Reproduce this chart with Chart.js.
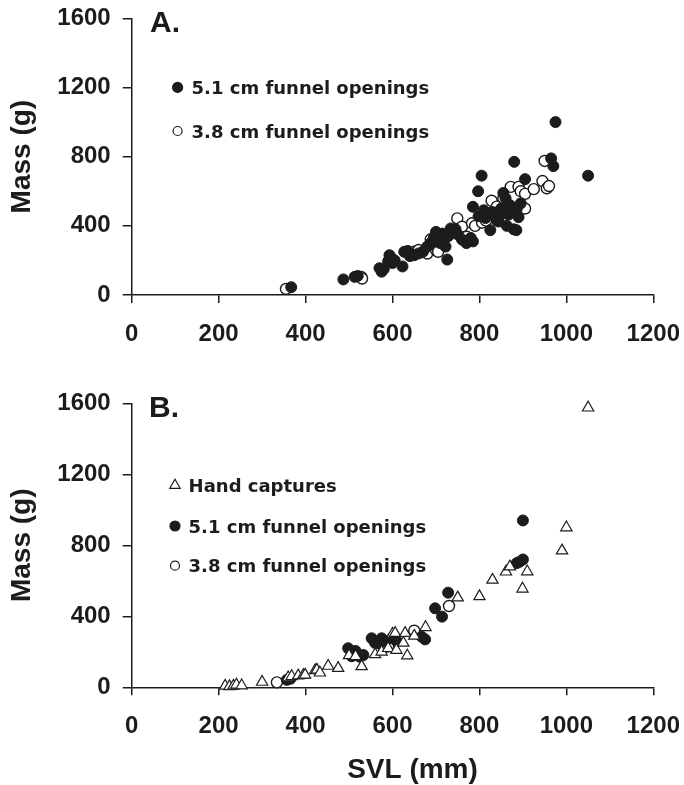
<!DOCTYPE html>
<html><head><meta charset="utf-8">
<script src="https://cdn.jsdelivr.net/npm/chart.js@4/dist/chart.umd.min.js"></script>
<style>body{margin:0;background:#fff}canvas{display:block}</style>
</head><body>
<canvas id="a" width="684" height="355" style="width:684px;height:355px"></canvas>
<canvas id="b" width="684" height="430" style="width:684px;height:430px"></canvas>
<script>
// ---- data (SVL mm, Mass g) ----
const xTicks = [0, 200, 400, 600, 800, 1000, 1200];
const yTicks = [0, 400, 800, 1200, 1600];

// Panel A, 5.1 cm funnel openings (filled)
const svlA51 = [367,487,513,520,570,575,580,590,593,597,600,605,623,627,635,640,650,660,670,680,688,695,700,705,710,715,722,726,728,734,740,745,750,760,770,780,785,785,797,798,805,810,814,820,825,830,837,840,844,850,852,855,860,863,867,870,875,879,880,885,886,890,895,905,965,970,975,1050];
const massA51 = [45,90,105,110,155,135,150,195,230,215,185,200,165,250,255,225,230,240,250,280,300,330,365,340,300,355,280,205,340,385,360,380,350,320,300,330,310,510,600,455,690,490,445,470,375,480,465,430,425,500,470,590,560,400,465,520,480,380,770,375,500,450,530,670,790,745,1000,690];
// Panel A, 3.8 cm funnel openings (open)
const svlA38 = [355,528,530,650,660,675,680,688,695,700,703,705,720,749,760,763,771,783,790,806,815,828,840,855,872,890,895,905,905,925,945,950,955,960];
const massA38 = [35,105,95,250,260,256,240,322,300,260,279,250,330,443,395,330,337,415,400,418,430,545,511,560,625,625,600,585,500,612,659,775,617,630];

// Panel B, hand captures (triangles)
const svlBHand = [215,225,234,241,253,300,360,368,383,395,399,422,426,433,452,475,500,515,529,560,575,590,600,606,609,625,629,634,650,676,750,800,830,861,870,899,910,990,1000,1050];
const massBHand = [8,5,8,14,10,30,55,62,66,68,70,95,98,82,120,108,180,175,118,185,200,220,300,305,210,250,305,178,290,338,505,512,605,651,680,555,652,770,900,1575];
// Panel B, 5.1 cm funnel openings (filled)
const svlB51 = [357,365,498,506,510,515,525,533,552,560,564,575,580,598,610,667,675,698,714,728,886,893,900,900];
const massB51 = [42,48,220,175,195,205,172,182,276,250,248,276,260,276,260,285,270,445,398,533,700,708,720,940];
// Panel B, 3.8 cm funnel openings (open)
const svlB38 = [334,580,590,650,730];
const massB38 = [28,225,230,319,458];

// ---- styling ----
const ink = '#1c1c1c';
const sansBold = (size) => ({family: "'Liberation Sans', Arial, Helvetica, sans-serif", size: size, weight: 'bold'});
const legendFont = "bold 18px 'DejaVu Sans', 'Liberation Sans', sans-serif";

function pts(xs, ys) { return xs.map((x, i) => ({x: x, y: ys[i]})); }

function filledSet(label, xs, ys) {
  return {label, data: pts(xs, ys), clip: false, pointStyle: 'circle', pointRadius: 5.5, pointBackgroundColor: ink, pointBorderColor: ink, pointBorderWidth: 1, showLine: false};
}
function openSet(label, xs, ys) {
  return {label, data: pts(xs, ys), clip: false, pointStyle: 'circle', pointRadius: 5.5, pointBackgroundColor: '#fff', pointBorderColor: ink, pointBorderWidth: 1.4, showLine: false};
}
function triSet(label, xs, ys) {
  return {label, data: pts(xs, ys), clip: false, pointStyle: 'triangle', pointRadius: 6.5, pointBackgroundColor: '#fff', pointBorderColor: ink, pointBorderWidth: 1.2, showLine: false};
}

function zeroPad(s) { s.paddingLeft = 0; s.paddingRight = 0; s.paddingTop = 0; s.paddingBottom = 0; }

function makeScales(xAxisHeight) {
  const grid = (len) => ({display: true, drawOnChartArea: false, drawTicks: true, tickLength: len, color: ink, lineWidth: 1.5});
  return {
    x: {
      type: 'linear', min: xTicks[0], max: xTicks[xTicks.length - 1],
      afterBuildTicks: (s) => { s.ticks = xTicks.map(v => ({value: v})); },
      ticks: {font: sansBold(24), color: ink, padding: 17, maxRotation: 0, autoSkip: false, callback: (v) => String(v)},
      grid: grid(8),
      border: {display: true, color: ink, width: 1.5},
      afterFit: (s) => { s.height = xAxisHeight; zeroPad(s); }
    },
    y: {
      type: 'linear', min: yTicks[0], max: yTicks[yTicks.length - 1],
      afterBuildTicks: (s) => { s.ticks = yTicks.map(v => ({value: v})); },
      ticks: {font: sansBold(24), color: ink, padding: 12, autoSkip: false, callback: (v) => String(v)},
      grid: grid(9),
      border: {display: true, color: ink, width: 1.5},
      title: {display: true, text: 'Mass (g)', font: sansBold(28), color: ink, padding: {top: 5, bottom: 0}},
      afterFit: (s) => { s.width = 131.7; zeroPad(s); }
    }
  };
}

function drawMarker(ctx, style, x, y, r) {
  ctx.save();
  ctx.lineWidth = 1.2;
  ctx.strokeStyle = ink;
  ctx.beginPath();
  if (style === 'triangle') {
    const s = Math.sin(Math.PI / 3) * r;
    ctx.moveTo(x, y - r);
    ctx.lineTo(x + s, y + r / 2);
    ctx.lineTo(x - s, y + r / 2);
    ctx.closePath();
    ctx.fillStyle = '#fff';
  } else {
    ctx.arc(x, y, r, 0, Math.PI * 2);
    ctx.fillStyle = style === 'filled' ? ink : '#fff';
  }
  ctx.fill();
  ctx.stroke();
  ctx.restore();
}

function annotations(cfg) {
  return {
    id: 'annot',
    afterDraw(chart) {
      const ctx = chart.ctx;
      ctx.save();
      ctx.fillStyle = ink;
      ctx.textBaseline = 'alphabetic';
      ctx.font = "bold 30px 'Liberation Sans', Arial, sans-serif";
      ctx.textAlign = 'left';
      ctx.fillText(cfg.letter, cfg.letterX, cfg.letterY);
      cfg.legend.forEach(item => {
        drawMarker(ctx, item.style, cfg.markX, item.y - 6.5, item.r);
        ctx.fillStyle = ink;
        ctx.font = legendFont;
        ctx.textAlign = 'left';
        ctx.fillText(item.text, cfg.textX, item.y);
      });
      if (cfg.xTitle) {
        ctx.font = "bold 28px 'Liberation Sans', Arial, sans-serif";
        ctx.textAlign = 'center';
        ctx.fillText(cfg.xTitle, cfg.xTitleX, cfg.xTitleY);
      }
      ctx.restore();
    }
  };
}

function baseOptions(topPad, xAxisHeight) {
  return {
    responsive: false, animation: false, devicePixelRatio: 1,
    layout: {padding: {left: 0, right: 30.7, top: topPad, bottom: 0}},
    plugins: {legend: {display: false}, tooltip: {enabled: false}},
    scales: makeScales(xAxisHeight)
  };
}

new Chart(document.getElementById('a'), {
  type: 'scatter',
  data: {datasets: [
    filledSet('5.1 cm funnel openings', svlA51, massA51),
    openSet('3.8 cm funnel openings', svlA38, massA38)
  ]},
  options: baseOptions(18.3, 60),
  plugins: [annotations({
    letter: 'A.', letterX: 150, letterY: 32,
    markX: 177.6, textX: 191.6,
    legend: [
      {style: 'filled', r: 5, text: '5.1 cm funnel openings', y: 93.9},
      {style: 'open', r: 4.5, text: '3.8 cm funnel openings', y: 137.5}
    ]
  })]
});

new Chart(document.getElementById('b'), {
  type: 'scatter',
  data: {datasets: [
    triSet('Hand captures', svlBHand, massBHand),
    filledSet('5.1 cm funnel openings', svlB51, massB51),
    openSet('3.8 cm funnel openings', svlB38, massB38)
  ]},
  options: baseOptions(48.3, 97.7),
  plugins: [annotations({
    letter: 'B.', letterX: 149, letterY: 62,
    markX: 175, textX: 188.6,
    legend: [
      {style: 'triangle', r: 6, text: 'Hand captures', y: 136.8},
      {style: 'filled', r: 5, text: '5.1 cm funnel openings', y: 177.5},
      {style: 'open', r: 4.5, text: '3.8 cm funnel openings', y: 217.2}
    ],
    xTitle: 'SVL (mm)', xTitleX: 412.5, xTitleY: 423.3
  })]
});
</script>
</body></html>
